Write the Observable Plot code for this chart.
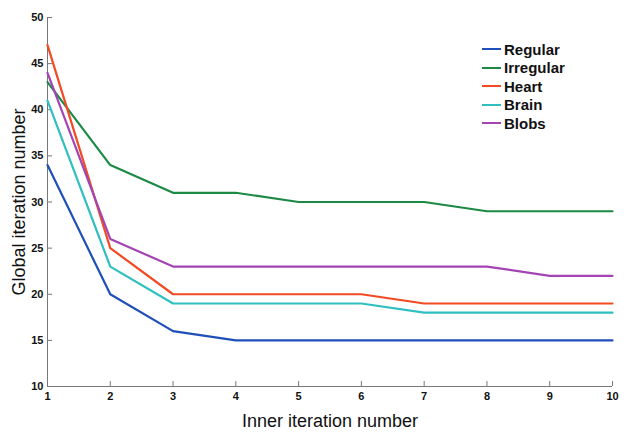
<!DOCTYPE html>
<html>
<head>
<meta charset="utf-8">
<script src="https://cdn.jsdelivr.net/npm/d3@7"></script>
<script src="https://cdn.jsdelivr.net/npm/@observablehq/plot@0.6"></script>
<style>
  html, body { margin: 0; padding: 0; background: #fff; }
  #wrap { position: relative; width: 629px; height: 435px; font-family: "Liberation Sans", Arial, sans-serif; }
  #legend { position: absolute; left: 482px; top: 40px; font-weight: bold; font-size: 15px; color: #111; }
  #legend .row { display: flex; align-items: center; height: 18.5px; }
  #legend .sw { width: 19px; height: 2px; margin-right: 3px; }
</style>
</head>
<body>
<div id="wrap"></div>
<script>
const inner = [1, 2, 3, 4, 5, 6, 7, 8, 9, 10];
const seriesNames = ["Regular", "Irregular", "Heart", "Brain", "Blobs"];
const regular   = [34, 20, 16, 15, 15, 15, 15, 15, 15, 15];
const irregular = [43, 34, 31, 31, 30, 30, 30, 29, 29, 29];
const heart     = [47, 25, 20, 20, 20, 20, 19, 19, 19, 19];
const brain     = [41, 23, 19, 19, 19, 19, 18, 18, 18, 18];
const blobs     = [44, 26, 23, 23, 23, 23, 23, 23, 22, 22];
const colors = ["#1f4fb8", "#1c8a45", "#f24a22", "#2fbfc0", "#a444b4"];
const yTicks = [10, 15, 20, 25, 30, 35, 40, 45, 50];

const valuesBySeries = [regular, irregular, heart, brain, blobs];
const data = [];
seriesNames.forEach((name, i) => {
  inner.forEach((x, j) => data.push({series: name, x, y: valuesBySeries[i][j]}));
});

const W = 629, H = 435, ML = 47, MR = 17, MT = 17, MB = 49;
const frameW = W - ML - MR, frameH = H - MT - MB;

const plot = Plot.plot({
  width: W,
  height: H,
  marginLeft: ML,
  marginRight: MR,
  marginTop: MT,
  marginBottom: MB,
  style: {fontFamily: "Liberation Sans, Arial, sans-serif", background: "#fff"},
  x: {domain: [1, 10]},
  y: {domain: [10, 50]},
  color: {domain: seriesNames, range: colors},
  marks: [
    Plot.tickX(inner, {x: d => d, stroke: "#777", strokeWidth: 1, insetTop: frameH - 5}),
    Plot.tickY(yTicks, {y: d => d, stroke: "#777", strokeWidth: 1, insetRight: frameW - 5}),
    Plot.ruleX([1], {stroke: "#777", strokeWidth: 1}),
    Plot.ruleY([10], {stroke: "#777", strokeWidth: 1}),
    Plot.axisX({ticks: inner, tickSize: 0, tickPadding: 6, fontWeight: "bold", fontSize: 11, fill: "#111",
      label: "Inner iteration number", labelAnchor: "center", labelArrow: "none", labelOffset: 40}),
    Plot.axisY({ticks: yTicks, tickSize: 0, tickPadding: 4, fontWeight: "bold", fontSize: 11, fill: "#111",
      label: "Global iteration number", labelAnchor: "center", labelArrow: "none", labelOffset: 35}),
    Plot.line(data, {x: "x", y: "y", z: "series", stroke: "series", strokeWidth: 2.2})
  ]
});

// enlarge axis labels
plot.querySelectorAll("g[aria-label='x-axis label'] text, g[aria-label='y-axis label'] text").forEach(t => {
  t.setAttribute("font-size", "18");
  t.style.fontSize = "18px";
  t.setAttribute("fill", "#111");
  t.style.fontWeight = "normal";
});

const wrap = document.getElementById("wrap");
wrap.appendChild(plot);

const legend = document.createElement("div");
legend.id = "legend";
seriesNames.forEach((name, i) => {
  const row = document.createElement("div");
  row.className = "row";
  const sw = document.createElement("span");
  sw.className = "sw";
  sw.style.background = colors[i];
  const label = document.createElement("span");
  label.textContent = name;
  row.appendChild(sw);
  row.appendChild(label);
  legend.appendChild(row);
});
wrap.appendChild(legend);
</script>
</body>
</html>
